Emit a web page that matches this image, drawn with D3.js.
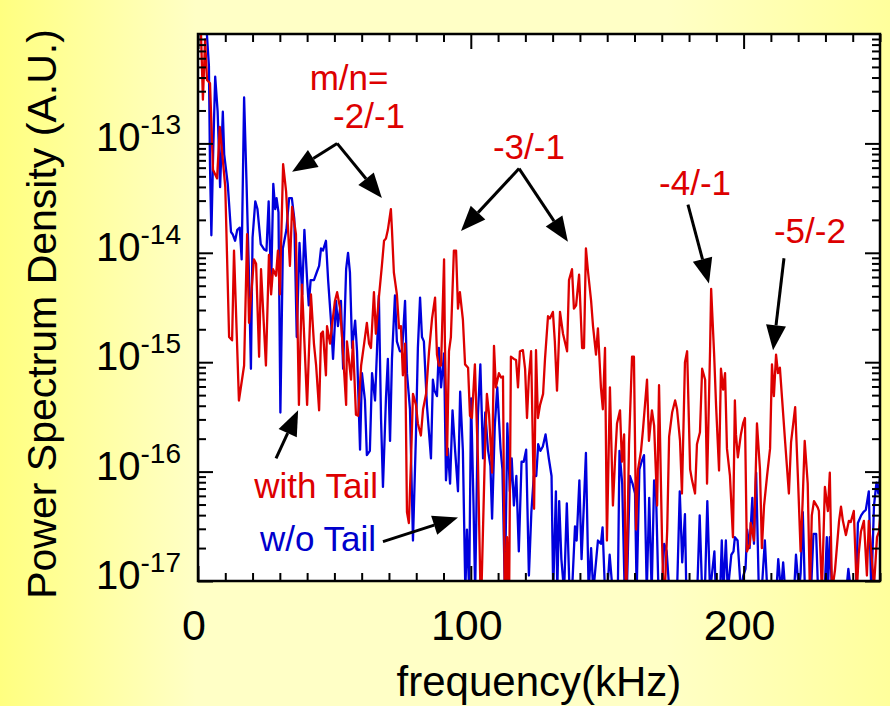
<!DOCTYPE html>
<html>
<head>
<meta charset="utf-8">
<script src="https://cdn.jsdelivr.net/npm/d3@7"></script>
<style>
  html, body { margin: 0; padding: 0; background: #ffffc8; }
  svg { display: block; }
</style>
</head>
<body>
<div id="chart"></div>
<script>
// ── Data: [frequency kHz, log10 PSD] ──
const withTail = [
  [0.4,-11.9],[1.1,-12.0],[1.8,-12.6],[2.6,-12.05],[3.3,-12.42],[4.4,-12.45],[5.5,-13.24],[7.0,-13.32],[8.0,-12.85],[10.0,-13.4],
  [11.4,-14.77],[12.5,-14.8],[13.2,-13.98],[15.0,-15.35],[16.9,-15.03],[18.0,-13.83],[18.7,-14.64],[20.5,-14.06],[21.3,-14.1],[22.4,-14.95],
  [23.1,-14.15],[24.9,-15.03],[26.0,-14.02],[26.8,-14.38],[27.5,-14.15],[28.6,-14.21],[29.3,-13.98],[30.0,-14.38],[31.2,-13.19],[32.3,-13.44],
  [33.7,-14.12],[34.5,-13.58],[35.9,-13.83],[37.0,-15.39],[38.1,-14.29],[40.0,-15.39],[41.4,-14.38],[42.5,-14.83],[43.3,-15.03],[44.4,-15.44],
  [45.1,-14.74],[45.8,-14.72],[46.9,-15.12],[47.3,-14.67],[48.4,-14.83],[49.1,-14.67],[50.2,-14.44],[51.0,-14.36],[52.1,-14.51],[52.8,-14.77],
  [54.3,-15.39],[54.6,-14.81],[56.1,-15.16],[56.8,-14.81],[57.9,-15.48],[58.7,-15.49],[59.8,-15.03],[60.9,-14.83],[61.9,-14.64],[62.7,-14.83],
  [63.4,-14.87],[64.5,-14.36],[65.2,-14.74],[66.3,-14.41],[67.4,-14.12],[68.2,-13.89],[68.9,-13.87],[69.6,-13.79],[70.7,-13.6],[71.1,-13.79],
  [71.8,-14.18],[72.9,-14.38],[73.7,-14.69],[74.4,-14.67],[75.1,-15.12],[75.9,-14.83],[76.6,-16.37],[77.3,-16.47],[78.1,-15.88],[78.8,-15.29],
  [79.9,-15.39],[80.6,-15.56],[81.7,-15.67],[82.5,-15.43],[83.6,-15.29],[84.7,-14.9],[85.8,-14.6],[86.9,-14.41],[87.6,-14.93],[88.3,-15.03],
  [89.1,-15.03],[90.2,-14.06],[90.5,-14.81],[91.3,-15.85],[92.0,-14.9],[92.7,-14.77],[93.8,-13.98],[94.6,-13.98],[95.3,-14.51],[96.0,-14.36],
  [97.1,-14.61],[97.9,-15.02],[99.0,-15.05],[99.7,-15.49],[100.4,-15.51],[101.5,-15.02],[102.6,-15.88],[103.7,-17.3],[105.2,-15.8],[105.9,-15.29],
  [106.7,-15.48],[107.8,-16.01],[108.5,-14.85],[109.2,-15.23],[110.3,-15.1],[111.1,-15.14],[111.8,-15.13],[112.5,-17.3],[113.3,-16.6],[114.0,-17.3],
  [114.7,-14.95],[115.8,-14.97],[116.6,-14.98],[117.3,-15.23],[118.0,-14.9],[119.1,-14.89],[119.9,-15.06],[120.6,-15.51],[121.3,-15.13],[122.1,-14.9],
  [123.2,-16.34],[123.9,-14.89],[124.6,-15.51],[125.4,-15.39],[126.5,-15.29],[127.2,-14.97],[128.3,-14.58],[129.0,-14.6],[130.1,-14.54],[130.8,-14.81],
  [131.6,-15.26],[132.7,-14.54],[133.8,-14.74],[135.3,-14.9],[136.0,-14.25],[137.1,-14.15],[137.8,-14.51],[138.6,-14.48],[139.7,-14.2],[140.8,-14.87],
  [141.5,-14.87],[142.2,-13.96],[143.0,-14.18],[144.1,-14.44],[144.8,-14.67],[145.9,-14.93],[146.6,-14.69],[147.7,-15.23],[148.4,-15.43],[149.2,-14.87],
  [149.9,-16.63],[151.0,-15.23],[152.1,-16.31],[152.9,-15.88],[153.6,-15.56],[154.7,-15.44],[155.4,-15.91],[156.2,-15.66],[156.9,-17.3],[158.0,-15.75],
  [159.1,-14.95],[159.8,-14.95],[160.6,-16.53],[161.3,-15.98],[162.4,-15.81],[163.1,-15.62],[164.6,-15.16],[165.3,-15.72],[166.4,-15.44],[167.2,-15.58],
  [168.3,-16.31],[169.0,-15.21],[170.1,-16.63],[170.8,-17.3],[172.0,-16.53],[172.7,-15.68],[173.8,-15.46],[174.9,-15.35],[175.6,-15.43],[176.7,-15.72],
  [177.4,-16.2],[178.5,-15.0],[179.3,-14.9],[180.4,-15.98],[181.1,-16.08],[182.2,-16.2],[182.9,-15.75],[184.0,-15.64],[184.8,-15.06],[185.9,-15.16],
  [186.6,-16.11],[187.7,-14.9],[188.1,-14.33],[189.2,-14.93],[189.9,-15.39],[191.0,-15.99],[191.7,-15.06],[192.5,-15.25],[193.2,-15.1],[193.9,-15.79],
  [195.0,-16.04],[196.1,-16.6],[196.8,-15.35],[197.2,-15.66],[197.9,-15.87],[199.0,-15.66],[199.8,-15.56],[200.5,-15.51],[201.2,-16.73],[202.3,-16.66],
  [202.6,-16.47],[203.8,-16.63],[204.9,-15.56],[206.0,-15.98],[206.7,-16.7],[207.5,-16.31],[208.6,-16.04],[209.7,-15.79],[210.4,-15.02],[211.1,-15.31],
  [211.9,-14.93],[212.6,-15.1],[213.3,-15.05],[214.1,-15.33],[215.2,-15.72],[216.6,-16.2],[217.4,-15.73],[218.9,-15.41],[220.0,-16.11],[220.9,-16.73],
  [221.6,-16.3],[222.4,-15.72],[223.5,-16.11],[224.3,-17.1],[225.0,-16.4],[225.8,-16.27],[227.2,-16.33],[227.6,-16.36],[228.7,-17.1],[229.8,-16.14],
  [230.9,-16.36],[231.6,-16.01],[232.4,-17.1],[233.5,-16.9],[235.0,-16.45],[235.7,-16.32],[236.4,-16.45],[237.5,-16.58],[238.6,-16.45],[239.3,-16.46],
  [240.4,-16.36],[241.5,-17.1],[242.2,-16.75],[243.0,-16.55],[244.1,-16.45],[245.2,-16.95],[245.9,-16.45],[247.0,-16.8],[247.8,-17.05],[248.9,-16.6],
  [249.6,-16.55],[250.5,-16.3]
];

const withoutTail = [
  [3.0,-11.9],[4.0,-12.29],[4.4,-13.2],[4.9,-13.84],[5.6,-13.04],[6.3,-12.39],[7.2,-12.71],[8.1,-13.4],[9.1,-12.71],[9.6,-13.1],
  [10.9,-13.37],[12.1,-13.81],[12.7,-13.83],[13.6,-13.89],[14.4,-13.79],[15.3,-13.77],[16.0,-14.06],[16.9,-12.58],[17.8,-13.37],[18.6,-14.12],
  [19.4,-15.06],[20.0,-13.86],[21.0,-13.53],[21.8,-13.6],[23.0,-13.92],[24.3,-13.97],[25.1,-13.98],[25.9,-13.53],[26.8,-14.31],[27.6,-13.37],
  [28.3,-13.6],[28.8,-13.5],[29.5,-13.63],[30.2,-15.46],[31.1,-13.96],[32.4,-13.79],[33.4,-13.5],[34.4,-13.5],[35.3,-13.69],[36.2,-14.77],
  [37.2,-13.91],[38.2,-14.38],[39.0,-13.79],[40.0,-14.25],[40.6,-14.48],[41.3,-14.25],[42.5,-14.25],[43.5,-14.18],[44.4,-14.12],[45.1,-13.96],
  [45.8,-13.98],[46.9,-13.89],[47.7,-14.25],[48.8,-14.64],[49.5,-14.97],[50.6,-14.44],[51.3,-14.67],[52.4,-14.44],[53.2,-15.06],[54.3,-14.15],
  [55.0,-14.0],[55.7,-14.18],[56.5,-14.87],[57.6,-14.62],[58.3,-14.9],[59.4,-15.8],[60.1,-15.1],[61.2,-15.35],[61.9,-15.85],[63.0,-15.81],
  [63.8,-15.1],[64.9,-15.35],[65.6,-14.9],[66.3,-14.39],[67.1,-15.52],[67.8,-16.14],[68.9,-15.33],[69.6,-14.97],[70.4,-15.72],[71.1,-14.97],
  [72.2,-14.39],[72.9,-14.81],[74.0,-14.9],[74.8,-14.9],[75.9,-14.44],[76.6,-15.1],[77.7,-15.43],[78.8,-16.63],[79.9,-15.66],[80.6,-14.87],
  [81.4,-14.41],[82.1,-14.77],[82.8,-14.81],[83.9,-15.39],[85.4,-15.88],[86.1,-15.16],[86.7,-15.26],[87.6,-15.31],[88.3,-14.87],[89.1,-15.23],
  [90.2,-14.92],[90.9,-16.08],[91.6,-15.79],[92.4,-16.11],[93.3,-15.44],[94.2,-15.79],[95.3,-16.18],[96.1,-15.27],[97.1,-15.81],[98.0,-17.1],
  [98.6,-16.53],[99.4,-17.1],[100.1,-15.33],[101.0,-16.31],[101.6,-17.1],[102.6,-15.49],[103.5,-15.02],[104.5,-15.88],[105.3,-15.46],[106.3,-15.8],
  [107.2,-15.95],[107.8,-16.43],[108.8,-15.58],[109.7,-15.23],[110.9,-15.79],[111.6,-15.98],[112.5,-17.1],[113.4,-15.56],[114.3,-16.18],[115.0,-15.88],
  [115.8,-16.31],[116.7,-16.04],[117.6,-16.73],[118.6,-15.91],[119.4,-15.91],[120.3,-15.8],[121.3,-16.95],[122.2,-16.37],[123.1,-16.04],[124.0,-16.04],
  [124.7,-15.75],[125.5,-15.81],[126.4,-15.77],[127.4,-15.66],[128.6,-15.88],[129.6,-16.04],[130.2,-17.1],[131.2,-16.18],[131.7,-17.1],[132.4,-16.27],
  [133.2,-16.8],[134.2,-17.1],[135.2,-16.29],[136.2,-17.1],[137.1,-17.1],[138.2,-16.5],[138.8,-16.63],[139.8,-16.08],[140.6,-16.8],[141.5,-16.27],
  [142.2,-15.83],[143.2,-17.1],[144.1,-16.7],[144.9,-17.1],[146.6,-16.63],[147.7,-16.66],[148.3,-16.51],[149.2,-17.1],[150.0,-17.1],[150.9,-16.76],
  [152.0,-17.1],[153.9,-17.1],[154.5,-15.81],[155.5,-16.11],[156.4,-17.1],[157.2,-17.1],[158.3,-16.04],[159.3,-16.11],[160.2,-16.2],[160.8,-17.1],
  [161.8,-15.98],[162.6,-15.91],[163.5,-15.85],[164.5,-17.1],[165.4,-16.24],[166.3,-17.1],[167.2,-16.08],[167.9,-16.2],[168.8,-17.1],[170.0,-17.1],
  [170.9,-16.66],[171.8,-16.73],[172.8,-17.1],[173.5,-17.1],[175.6,-17.1],[176.6,-16.18],[177.5,-16.83],[178.5,-16.39],[179.0,-17.1],[183.0,-17.1],
  [183.9,-16.4],[184.8,-17.1],[185.8,-17.1],[186.7,-16.27],[187.7,-17.1],[189.3,-16.73],[189.8,-17.1],[191.4,-17.1],[192.0,-16.63],[192.6,-17.1],
  [193.5,-16.63],[194.2,-17.1],[195.5,-16.76],[196.3,-16.73],[196.8,-16.6],[197.8,-16.63],[199.0,-17.1],[199.9,-16.95],[200.7,-16.89],[201.3,-16.53],
  [202.2,-16.7],[203.2,-16.24],[203.8,-16.66],[204.6,-16.01],[205.6,-17.1],[206.6,-17.1],[207.8,-16.63],[208.7,-17.1],[212.0,-17.1],[212.7,-16.8],
  [213.7,-17.1],[214.5,-16.83],[215.3,-17.1],[218.5,-17.1],[219.2,-16.76],[220.3,-17.1],[220.9,-16.93],[221.7,-16.37],[222.5,-17.1],[224.7,-17.1],
  [225.6,-16.57],[226.6,-16.57],[227.3,-17.1],[229.7,-17.1],[230.5,-16.6],[230.9,-17.1],[231.6,-16.6],[232.4,-17.1],[237.6,-17.1],[238.4,-16.89],
  [239.4,-17.1],[241.2,-17.1],[241.9,-16.47],[243.1,-16.4],[243.9,-16.37],[244.8,-16.35],[245.9,-16.18],[246.8,-17.1],[247.8,-16.31],[248.7,-16.1],
  [249.4,-16.2],[250.2,-16.0]
];

const xMajor = [0, 100, 200];
const xMinor = d3.range(10, 251, 10).filter(v => v % 100 !== 0);
const yDecades = [-17, -16, -15, -14, -13];

// annotation text: [label, freq, log10 psd, colour]
const labels = [
  ['m/n=', 55.4, -12.51, '#dd0000'],
  ['-2/-1', 62.7, -12.86, '#dd0000'],
  ['-3/-1', 121.3, -13.14, '#dd0000'],
  ['-4/-1', 182.2, -13.47, '#dd0000'],
  ['-5/-2', 224.3, -13.91, '#dd0000'],
  ['with Tail', 43.3, -16.24, '#dd0000'],
  ['w/o Tail', 44.0, -16.73, '#0000cc']
];
// arrows: [fromFreq, fromLog, toFreq, toLog]
const arrows = [
  [51.0, -13.0, 34.5, -13.26],
  [51.0, -13.0, 67.4, -13.5],
  [117.7, -13.23, 96.4, -13.8],
  [117.7, -13.23, 135.6, -13.9],
  [179.6, -13.56, 187.3, -14.28],
  [214.8, -14.05, 210.8, -14.89],
  [28.6, -15.88, 36.7, -15.44],
  [67.8, -16.64, 95.3, -16.42]
];

// ── Layout ──
const W = 890, H = 706;
const margin = { top: 34, right: 10, bottom: 125, left: 198 };
const cw = W - margin.left - margin.right;
const ch = H - margin.top - margin.bottom;

const svg = d3.select('#chart').append('svg')
  .attr('width', W).attr('height', H)
  .style('font-family', '"Liberation Sans", Arial, Helvetica, sans-serif');

// background gradient
const defs = svg.append('defs');
const grad = defs.append('linearGradient').attr('id', 'bg').attr('x1', '0').attr('x2', '1').attr('y1', '0').attr('y2', '0');
grad.append('stop').attr('offset', '0%').attr('stop-color', '#ffff80');
grad.append('stop').attr('offset', '22%').attr('stop-color', '#ffffc6');
grad.append('stop').attr('offset', '75%').attr('stop-color', '#ffffc6');
grad.append('stop').attr('offset', '100%').attr('stop-color', '#ffff9c');
svg.append('rect').attr('width', W).attr('height', H).attr('fill', 'url(#bg)');

defs.append('clipPath').attr('id', 'clip')
  .append('rect').attr('width', cw).attr('height', ch);

const g = svg.append('g').attr('transform', 'translate(' + margin.left + ',' + margin.top + ')');
g.append('rect').attr('width', cw).attr('height', ch).attr('fill', '#fff');

const x = d3.scaleLinear().domain([0, 250]).range([0, cw]);
const y = d3.scaleLog().domain([1e-17, 1e-12]).range([ch, 0]);

// ── Spectra ──
const line = d3.line().x(d => x(d[0])).y(d => y(Math.pow(10, d[1])));
const plot = g.append('g').attr('clip-path', 'url(#clip)');
plot.append('path').datum(withoutTail).attr('d', line)
  .attr('fill', 'none').attr('stroke', '#0000dd').attr('stroke-width', 2.3).attr('stroke-linejoin', 'round');
plot.append('path').datum(withTail).attr('d', line)
  .attr('fill', 'none').attr('stroke', '#dd0000').attr('stroke-width', 2.3).attr('stroke-linejoin', 'round');

// ── Ticks (inward, mirrored on all four sides) ──
const yMinor = [];
yDecades.concat([-12]).forEach(e => { if (e < -12) for (let k = 2; k <= 9; k++) yMinor.push(k * Math.pow(10, e)); });
const yMajor = yDecades.map(e => Math.pow(10, e));

function tickAxis(gen, vals, len, tx) {
  const a = g.append('g').attr('transform', tx)
    .call(gen.tickValues(vals).tickSize(-len).tickFormat(''));
  a.select('.domain').remove();
  a.selectAll('line').attr('stroke', '#000').attr('stroke-width', 2);
}
tickAxis(d3.axisBottom(x), xMajor, 15, 'translate(0,' + ch + ')');
tickAxis(d3.axisBottom(x), xMinor, 8, 'translate(0,' + ch + ')');
tickAxis(d3.axisTop(x), xMajor, 15, 'translate(0,0)');
tickAxis(d3.axisTop(x), xMinor, 8, 'translate(0,0)');
tickAxis(d3.axisLeft(y), yMajor, 15, 'translate(0,0)');
tickAxis(d3.axisLeft(y), yMinor, 8, 'translate(0,0)');
tickAxis(d3.axisRight(y), yMajor, 15, 'translate(' + cw + ',0)');
tickAxis(d3.axisRight(y), yMinor, 8, 'translate(' + cw + ',0)');

// frame
g.append('rect').attr('width', cw).attr('height', ch)
  .attr('fill', 'none').attr('stroke', '#000').attr('stroke-width', 2.5);

// ── Tick labels ──
g.selectAll('.xl').data(xMajor).enter().append('text')
  .attr('x', d => x(d) - 4).attr('y', ch + 59)
  .attr('text-anchor', 'middle').style('font-size', '43px').style('fill', '#000')
  .text(d => d);

const yl = g.selectAll('.yl').data(yDecades).enter().append('text')
  .attr('x', -17).attr('y', d => y(Math.pow(10, d)) + 8)
  .attr('text-anchor', 'end').style('fill', '#000');
yl.append('tspan').style('font-size', '40px').text('10');
yl.append('tspan').attr('dy', -17).style('font-size', '28px').text(d => String(d));

// ── Axis titles ──
svg.append('text')
  .attr('x', margin.left + cw / 2).attr('y', H - 10)
  .attr('text-anchor', 'middle').style('font-size', '42px').style('fill', '#000')
  .text('frequency(kHz)');
svg.append('text')
  .attr('transform', 'translate(56,' + 314 + ') rotate(-90)')
  .attr('text-anchor', 'middle').style('font-size', '41px').style('fill', '#000')
  .text('Power Spectrum Density (A.U.)');

// ── Annotations ──
g.selectAll('.ann').data(labels).enter().append('text')
  .attr('x', d => x(d[1])).attr('y', d => y(Math.pow(10, d[2])))
  .attr('text-anchor', 'middle').style('font-size', '35px')
  .style('fill', d => d[3]).text(d => d[0]);

const headLen = 25, headHalf = 10;
arrows.forEach(a => {
  const x0 = x(a[0]), y0 = y(Math.pow(10, a[1]));
  const x1 = x(a[2]), y1 = y(Math.pow(10, a[3]));
  const ang = Math.atan2(y1 - y0, x1 - x0);
  const bx = x1 - headLen * Math.cos(ang), by = y1 - headLen * Math.sin(ang);
  g.append('line').attr('x1', x0).attr('y1', y0).attr('x2', bx).attr('y2', by)
    .attr('stroke', '#000').attr('stroke-width', 3);
  const px = -Math.sin(ang) * headHalf, py = Math.cos(ang) * headHalf;
  g.append('path')
    .attr('d', 'M' + x1 + ',' + y1 + 'L' + (bx + px) + ',' + (by + py) + 'L' + (bx - px) + ',' + (by - py) + 'Z')
    .attr('fill', '#000');
});
</script>
</body>
</html>
